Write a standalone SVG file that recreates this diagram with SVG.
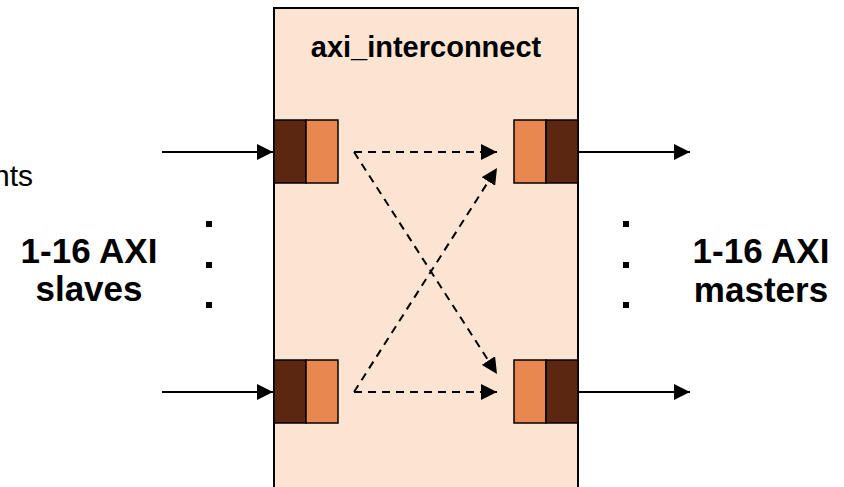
<svg xmlns="http://www.w3.org/2000/svg" width="844" height="487" viewBox="0 0 844 487">
<style>
.lbl{font-family:"Liberation Sans",Arial,sans-serif;font-weight:bold;font-size:35px;fill:#000;text-anchor:middle}
.title{font-family:"Liberation Sans",Arial,sans-serif;font-weight:bold;font-size:29px;fill:#000;text-anchor:middle}
.small{font-family:"Liberation Sans",Arial,sans-serif;font-size:30px;fill:#000;text-anchor:end}
.dark{fill:#5C2710;stroke:#000;stroke-width:1.5}
.light{fill:#E8874F;stroke:#000;stroke-width:1.5}
.solid{stroke:#000;stroke-width:2;fill:none}
.dash{stroke:#000;stroke-width:2;fill:none;stroke-dasharray:8 6}
.dot{fill:#000}
</style>
<defs>
<marker id="ah" markerUnits="userSpaceOnUse" markerWidth="17" markerHeight="16" refX="16" refY="8" orient="auto">
<path d="M0,0 L16,8 L0,16 z" fill="#000"/>
</marker>
</defs>
<rect width="844" height="487" fill="#fff"/>
<g id="interconnect">
<rect x="274" y="8" width="304" height="480" fill="#FBE5D2" stroke="#000" stroke-width="2"/>
<text class="title" x="426" y="57">axi_interconnect</text>
</g>
<g id="slave-port-top">
<rect class="dark" x="274" y="120" width="32" height="63"/>
<rect class="light" x="306" y="120" width="32" height="63"/>
</g>
<g id="slave-port-bottom">
<rect class="dark" x="274" y="360" width="32" height="63"/>
<rect class="light" x="306" y="360" width="32" height="63"/>
</g>
<g id="master-port-top">
<rect class="light" x="514" y="120" width="32" height="63"/>
<rect class="dark" x="546" y="120" width="32" height="63"/>
</g>
<g id="master-port-bottom">
<rect class="light" x="514" y="360" width="32" height="63"/>
<rect class="dark" x="546" y="360" width="32" height="63"/>
</g>
<g id="slaves-label">
<text class="small" x="33" y="186">nts</text>
<text class="lbl" x="89" y="263">1-16 AXI</text>
<text class="lbl" x="89" y="301">slaves</text>
<rect class="dot" x="206" y="221" width="6" height="6"/>
<rect class="dot" x="206" y="262" width="6" height="6"/>
<rect class="dot" x="206" y="302" width="6" height="6"/>
</g>
<g id="masters-label">
<text class="lbl" x="761" y="263">1-16 AXI</text>
<text class="lbl" x="761" y="302">masters</text>
<rect class="dot" x="623" y="221" width="6" height="6"/>
<rect class="dot" x="623" y="262" width="6" height="6"/>
<rect class="dot" x="623" y="302" width="6" height="6"/>
</g>
<g id="connectors">
<line class="solid" x1="162" y1="152" x2="273" y2="152" marker-end="url(#ah)"/>
<line class="solid" x1="162" y1="392" x2="273" y2="392" marker-end="url(#ah)"/>
<line class="solid" x1="578" y1="152" x2="690" y2="152" marker-end="url(#ah)"/>
<line class="solid" x1="578" y1="392" x2="690" y2="392" marker-end="url(#ah)"/>
<path class="dash" d="M354,152 H497" marker-end="url(#ah)"/>
<path class="dash" d="M354,152 L497,374" marker-end="url(#ah)"/>
<path class="dash" d="M354,392 H497" marker-end="url(#ah)"/>
<path class="dash" d="M354,392 L497,168" marker-end="url(#ah)"/>
</g>
</svg>
